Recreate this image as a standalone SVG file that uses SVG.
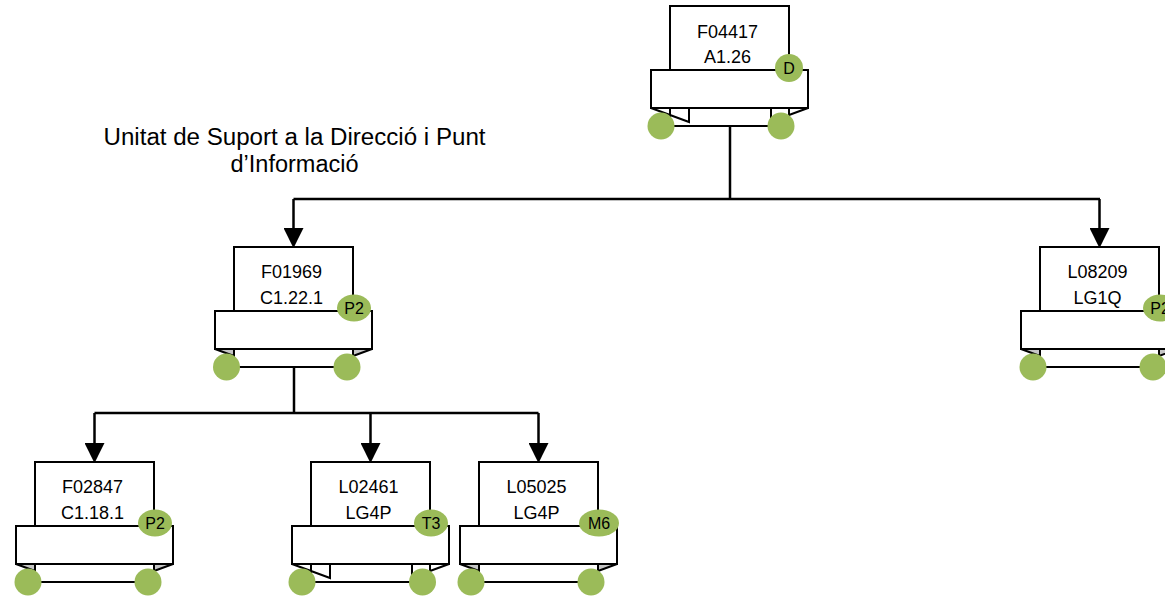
<svg xmlns="http://www.w3.org/2000/svg" width="1165" height="596" viewBox="0 0 1165 596">
<style>
  .box{fill:#fff;stroke:#000;stroke-width:2}
  .fold{fill:#fff;stroke:#000;stroke-width:2;stroke-linejoin:miter}
  .gfold{fill:#c6c6c6;stroke:#000;stroke-width:2}
  .ln{fill:none;stroke:#000;stroke-width:2}
  .dot{fill:#9bbb59}
  .t{font-family:"Liberation Sans",Arial,sans-serif;font-size:18px;fill:#000;text-anchor:middle}
  .b{font-family:"Liberation Sans",Arial,sans-serif;font-size:16px;fill:#000;text-anchor:middle}
  .title{font-family:"Liberation Sans",Arial,sans-serif;font-size:23.5px;fill:#000;text-anchor:middle}
  .con{fill:none;stroke:#000;stroke-width:2.5}
</style>
<defs>
  <marker id="arr" markerUnits="userSpaceOnUse" markerWidth="20" markerHeight="20" refX="8" refY="9" orient="auto" viewBox="0 0 18 18">
    <path d="M0,0 L18,9 L0,18 z" fill="#000"/>
  </marker>
</defs>
<rect width="1165" height="596" fill="#fff"/>

<g id="title">
  <text class="title" x="294.5" y="145" textLength="382" lengthAdjust="spacingAndGlyphs">Unitat de Suport a la Direcció i Punt</text>
  <text class="title" x="294.5" y="171.5">d’Informació</text>
</g>

<g id="connectors">
  <path class="con" d="M730,126 V199"/>
  <path class="con" d="M293.5,199 H1100"/>
  <path class="con" d="M293.5,199 V237" marker-end="url(#arr)"/>
  <path class="con" d="M1099.5,199 V237" marker-end="url(#arr)"/>
  <path class="con" d="M294,367 V413"/>
  <path class="con" d="M94.5,413 H538.5"/>
  <path class="con" d="M94.5,413 V452" marker-end="url(#arr)"/>
  <path class="con" d="M370.5,413 V452" marker-end="url(#arr)"/>
  <path class="con" d="M538.5,413 V452" marker-end="url(#arr)"/>
</g>

<!-- Top node: L=670 T=6 R=789 -->
<g id="node-F04417">
  <rect class="box" x="670" y="6" width="119" height="64"/>
  <rect class="box" x="670" y="108" width="119" height="18"/>
  <polygon class="ln" points="651,108 689,122 689,108"/>
  <line class="ln" x1="771" y1="108" x2="771" y2="126"/>
  <polygon class="fold" points="789,108 808,108 789,115"/>
  <rect class="box" x="651" y="70" width="157" height="38"/>
  <circle class="dot" cx="661" cy="126" r="13.5"/>
  <circle class="dot" cx="781" cy="126" r="13.5"/>
  <text class="t" x="727.5" y="37.5">F04417</text>
  <text class="t" x="727.5" y="63">A1.26</text>
  <circle class="dot" cx="789" cy="68" r="14"/>
  <text class="b" x="789" y="73.5">D</text>
</g>

<!-- F01969: L=234 T=247 R=353 -->
<g id="node-F01969">
  <rect class="box" x="234" y="247" width="119" height="64"/>
  <rect class="box" x="234" y="349" width="119" height="18"/>
  <polygon class="gfold" points="215,349 234,349 234,356"/>
  <polygon class="gfold" points="353,349 372,349 353,356"/>
  <rect class="box" x="215" y="311" width="157" height="38"/>
  <circle class="dot" cx="226.5" cy="367" r="13.5"/>
  <circle class="dot" cx="347" cy="367" r="13.5"/>
  <text class="t" x="291.5" y="278">F01969</text>
  <text class="t" x="291.5" y="304">C1.22.1</text>
  <ellipse class="dot" cx="354" cy="308" rx="17" ry="13.5"/>
  <text class="b" x="354" y="313.5">P2</text>
</g>

<!-- L08209: L=1040 T=247 R=1159 -->
<g id="node-L08209">
  <rect class="box" x="1040" y="247" width="119" height="64"/>
  <rect class="box" x="1040" y="349" width="119" height="18"/>
  <polygon class="gfold" points="1021,349 1040,349 1040,356"/>
  <polygon class="gfold" points="1159,349 1178,349 1159,356"/>
  <rect class="box" x="1021" y="311" width="157" height="38"/>
  <circle class="dot" cx="1033" cy="367" r="13.5"/>
  <circle class="dot" cx="1153" cy="367" r="13.5"/>
  <text class="t" x="1097.5" y="278">L08209</text>
  <text class="t" x="1097.5" y="304">LG1Q</text>
  <ellipse class="dot" cx="1160" cy="308" rx="17" ry="13.5"/>
  <text class="b" x="1160" y="313.5">P2</text>
</g>

<!-- F02847: L=35 T=462 R=154 -->
<g id="node-F02847">
  <rect class="box" x="35" y="462" width="119" height="64"/>
  <rect class="box" x="35" y="564" width="119" height="18"/>
  <polygon class="gfold" points="16,564 35,564 35,571"/>
  <polygon class="gfold" points="154,564 173,564 154,571"/>
  <rect class="box" x="16" y="526" width="157" height="38"/>
  <circle class="dot" cx="28" cy="582" r="13.5"/>
  <circle class="dot" cx="148" cy="582" r="13.5"/>
  <text class="t" x="92.5" y="493">F02847</text>
  <text class="t" x="92.5" y="519">C1.18.1</text>
  <ellipse class="dot" cx="155" cy="523" rx="17" ry="13.5"/>
  <text class="b" x="155" y="528.5">P2</text>
</g>

<!-- L02461: L=311 T=462 R=430 -->
<g id="node-L02461">
  <rect class="box" x="311" y="462" width="119" height="64"/>
  <rect class="box" x="311" y="564" width="119" height="18"/>
  <polygon class="ln" points="292,564 330,578 330,564"/>
  <line class="ln" x1="412" y1="564" x2="412" y2="582"/>
  <polygon class="fold" points="430,564 449,564 430,571"/>
  <rect class="box" x="292" y="526" width="157" height="38"/>
  <circle class="dot" cx="302" cy="582" r="13.5"/>
  <circle class="dot" cx="422.5" cy="582" r="13.5"/>
  <text class="t" x="368.5" y="493">L02461</text>
  <text class="t" x="368.5" y="519">LG4P</text>
  <ellipse class="dot" cx="431" cy="523" rx="17" ry="13.5"/>
  <text class="b" x="431" y="528.5">T3</text>
</g>

<!-- L05025: L=479 T=462 R=598 -->
<g id="node-L05025">
  <rect class="box" x="479" y="462" width="119" height="64"/>
  <rect class="box" x="479" y="564" width="119" height="18"/>
  <polygon class="gfold" points="460,564 479,564 479,571"/>
  <polygon class="gfold" points="598,564 617,564 598,571"/>
  <rect class="box" x="460" y="526" width="157" height="38"/>
  <circle class="dot" cx="471" cy="582" r="13.5"/>
  <circle class="dot" cx="591" cy="582" r="13.5"/>
  <text class="t" x="536.5" y="493">L05025</text>
  <text class="t" x="536.5" y="519">LG4P</text>
  <ellipse class="dot" cx="599" cy="523" rx="20" ry="13.5"/>
  <text class="b" x="599" y="528.5">M6</text>
</g>
</svg>
